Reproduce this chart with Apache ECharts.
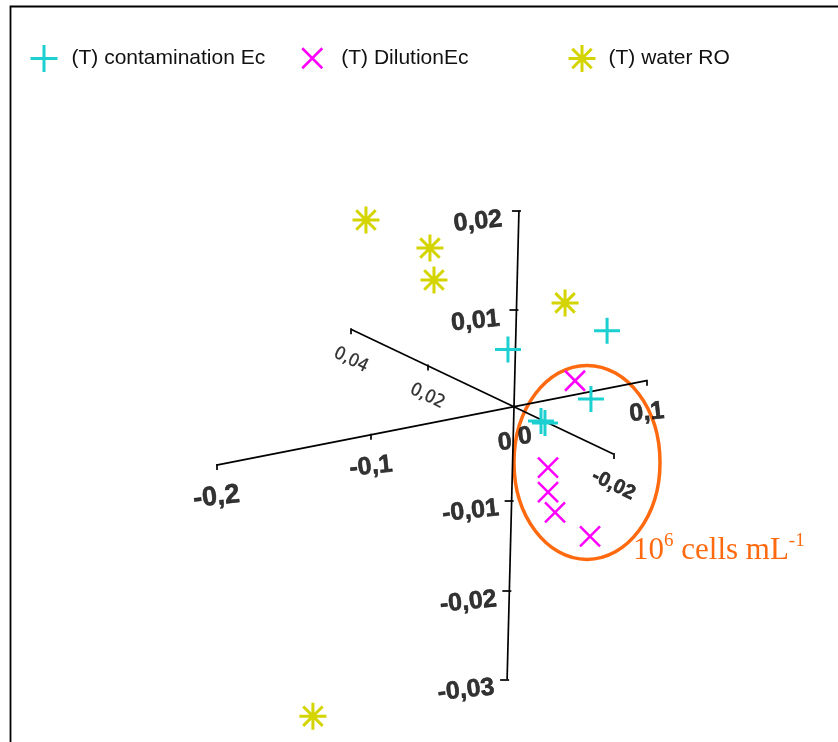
<!DOCTYPE html>
<html><head><meta charset="utf-8">
<script src="https://cdn.jsdelivr.net/npm/echarts@6/dist/echarts.min.js"></script>
<style>html,body{margin:0;padding:0;background:#fff}#c{width:838px;height:742px}</style>
</head><body><div id="c"></div>
<script>
// ---- DATA (score on axis 1 = horizontal, axis 2 = vertical, axis 3 = depth) ----
const seriesNames = ['(T) contamination Ec', '(T) DilutionEc', '(T) water RO'];
const contaminationEc = [[-0.0054, 0.0061, 0], [0.0676, 0.0062, 0], [0.0573, -0.0008, 0], [0.0202, -0.0021, 0], [0.0232, -0.0024, 0]];
const dilutionEc = [[0.0447, 0.0015, 0], [0.0265, -0.0073, 0], [0.0271, -0.0100, 0], [0.0329, -0.0124, 0], [0.0606, -0.0160, 0]];
const waterRO = [[-0.1036, 0.0212, 0], [-0.0611, 0.0176, 0], [-0.0581, 0.0144, 0], [0.0353, 0.0099, 0], [-0.1398, -0.0283, 0]];
const xTicks = [-0.2, -0.1, 0, 0.1];
const xTickLabels = ['-0,2', '-0,1', '0', '0,1'];
const yTicks = [0.02, 0.01, -0.01, -0.02, -0.03];
const yTickLabels = ['0,02', '0,01', '-0,01', '-0,02', '-0,03'];
const zTicks = [0.04, 0.02, 0, -0.02];
const zTickLabels = ['0,04', '0,02', '0', '-0,02'];
const annotationText = ['10', '6', ' cells mL', '-1'];

// ---- VIEW / STYLE ----
const W = 838, H = 742;
const VIEW = { origin: [514, 406.7], ex: [1376.6, -270], ey: [240, -9502], ez: [-4629, -2200], persp: [0.3735, -1.522, 3.387] };
function project(p) {
  const x = p[0], y = p[1], z = p[2];
  const w = 1 + x * VIEW.persp[0] + y * VIEW.persp[1] + z * VIEW.persp[2];
  return [VIEW.origin[0] + (x * VIEW.ex[0] + y * VIEW.ey[0] + z * VIEW.ez[0]) / w,
          VIEW.origin[1] + (x * VIEW.ex[1] + y * VIEW.ey[1] + z * VIEW.ez[1]) / w];
}
const COLORS = ['#1ccfd0', '#ff00ff', '#d4d400'];
const ICONS = [
  'path://M-1,0L1,0M0,-1L0,1',
  'path://M-1,-1L1,1M-1,1L1,-1',
  'path://M-1,0L1,0M0,-1L0,1M-0.72,-0.72L0.72,0.72M-0.72,0.72L0.72,-0.72'
];
const SYM_SIZE = [26, 20, 27];
const SYM_STROKE = [3, 2.5, 3];
const AXIS_COLOR = '#000';
const SANS = '"Liberation Sans", Arial, sans-serif';
const NARROW = '"Liberation Sans Narrow", "DejaVu Sans Condensed", Arial, sans-serif';

const add = (a, b) => [a[0] + b[0], a[1] + b[1]];

// axis lines
const axisLines = [
  { coords: [project([xTicks[0], 0, 0]), project([xTicks[xTicks.length - 1], 0, 0])] },
  { coords: [project([0, yTicks[0], 0]), project([0, yTicks[yTicks.length - 1], 0])] },
  { coords: [project([0, 0, zTicks[0]]), project([0, 0, zTicks[zTicks.length - 1]])] }
];
// tick marks
const tickSegs = [];
xTicks.forEach(v => { if (v !== 0) { const p = project([v, 0, 0]); tickSegs.push({ coords: [add(p, [0, -1]), add(p, [0, 5])] }); } });
yTicks.forEach(v => { const p = project([0, v, 0]); tickSegs.push({ coords: [add(p, [-7, 0]), add(p, [2, 0])] }); });
zTicks.forEach(v => { if (v !== 0) { const p = project([0, 0, v]); tickSegs.push({ coords: [add(p, [0, -1]), add(p, [0, 5])] }); } });

// tick labels
function labelSeries(ticks, labels, toPoint, offset, zeroOffset, lab) {
  return {
    type: 'scatter', symbolSize: 1, itemStyle: { color: 'rgba(0,0,0,0)' }, silent: true, z: 3,
    data: ticks.map((v, i) => ({
      value: add(project(toPoint(v)), v === 0 ? zeroOffset : offset),
      label: Object.assign({ show: true, formatter: labels[i], position: 'inside', color: '#000',
        textBorderColor: '#000', textBorderWidth: 0.6, fontFamily: SANS }, typeof lab === 'function' ? lab(v, i) : lab)
    }))
  };
}

const chart = echarts.init(document.getElementById('c'), null, { renderer: 'canvas' });
const legendPos = [
  { left: 29, top: 43.5, w: 27, pad: 9 },
  { left: 301, top: 47, w: 20, pad: 14 },
  { left: 567, top: 43.5, w: 27, pad: 8 }
];
chart.setOption({
  animation: false,
  backgroundColor: '#fff',
  grid: { left: 0, right: 0, top: 0, bottom: 0 },
  xAxis: { type: 'value', min: 0, max: W, show: false },
  yAxis: { type: 'value', min: 0, max: H, inverse: true, show: false },
  legend: seriesNames.map((n, i) => ({
    left: legendPos[i].left, top: legendPos[i].top, padding: 0,
    itemWidth: legendPos[i].w, itemHeight: legendPos[i].w, selectedMode: false,
    textStyle: { fontFamily: SANS, fontSize: 21, color: '#111', padding: [0, 0, 0, legendPos[i].pad] },
    data: [{ name: n, icon: ICONS[i], itemStyle: { color: COLORS[i], borderColor: COLORS[i], borderWidth: SYM_STROKE[i] } }]
  })),
  graphic: [
    { type: 'polyline', shape: { points: [[10.5, H + 2], [10.5, 6.5], [W + 2, 6.5]] }, style: { stroke: '#000', lineWidth: 1.8, fill: null }, z: 1 },
    { type: 'ellipse', shape: { cx: 587, cy: 462.4, rx: 73, ry: 97 }, style: { fill: null, stroke: '#ff6a10', lineWidth: 3.5 }, z: 1 },
    { type: 'text', left: 633, top: 532, z: 5,
      style: {
        text: '{b|' + annotationText[0] + '}{s|' + annotationText[1] + '}{b|' + annotationText[2] + '}{s|' + annotationText[3] + '}',
        rich: {
          b: { fontFamily: '"Liberation Serif", "Times New Roman", serif', fontSize: 31, fill: '#ff6a10', lineHeight: 34, verticalAlign: 'bottom' },
          s: { fontFamily: '"Liberation Serif", "Times New Roman", serif', fontSize: 19, fill: '#ff6a10', lineHeight: 20, verticalAlign: 'top' }
        }
      } }
  ],
  series: [
    { type: 'lines', coordinateSystem: 'cartesian2d', polyline: false, silent: true, z: 1,
      lineStyle: { color: AXIS_COLOR, width: 1.7, opacity: 1 }, data: axisLines },
    { type: 'lines', coordinateSystem: 'cartesian2d', silent: true, z: 1,
      lineStyle: { color: AXIS_COLOR, width: 1.7, opacity: 1 }, data: tickSegs },
    labelSeries(xTicks, xTickLabels, v => [v, 0, 0], [0, 32], [-9, 36],
      (v) => ({ fontSize: v === -0.2 ? 27 : 25, fontWeight: 'bold', rotate: 6, fontFamily: SANS })),
    labelSeries(yTicks, yTickLabels, v => [0, v, 0], [-41, 11], [0, 0], { fontSize: 25, fontWeight: 'bold', rotate: 6 }),
    labelSeries(zTicks, zTickLabels, v => [0, 0, v], [0, 31], [11, 30], (v) => (
      v === 0 ? { fontSize: 25, fontWeight: 'bold', rotate: 6 } :
      v < 0 ? { fontSize: 20, fontWeight: 'bold', rotate: -26 } :
      { fontSize: 18, fontWeight: 'normal', rotate: -26, fontFamily: NARROW, textBorderWidth: 0.3 })),
    ...[contaminationEc, dilutionEc, waterRO].map((d, i) => ({
      name: seriesNames[i], type: 'scatter', z: 4,
      symbol: ICONS[i], symbolSize: SYM_SIZE[i],
      itemStyle: { color: COLORS[i], borderColor: COLORS[i], borderWidth: SYM_STROKE[i], opacity: 1 },
      data: d.map(project)
    }))
  ]
});
</script></body></html>
